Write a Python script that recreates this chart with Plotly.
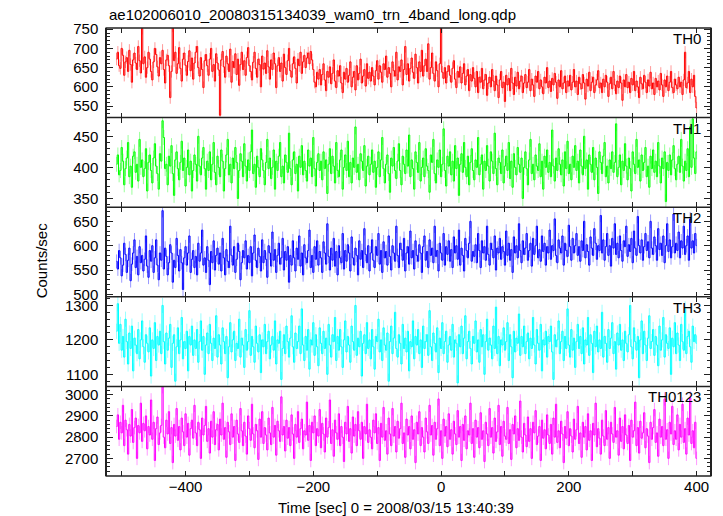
import numpy as np
import plotly.graph_objects as go

TIME_START = -508.0
BIN_SEC = 2.0

TH0 = [
    672, 690, 655, 648, 700, 682, 630, 665, 676, 640, 695, 658, 612, 670, 688, 662, 645, 705, 668, 636,
    752, 660, 678, 625, 650, 690, 672, 640, 618, 665, 700, 684, 652, 628, 676, 660, 695, 645, 610, 670,
    682, 655, 572, 640, 758, 668, 690, 635, 660, 702, 648, 615, 672, 688, 656, 630, 666, 694, 642, 675,
    620, 662, 690, 705, 650, 628, 676, 645, 598, 668, 684, 655, 630, 672, 700, 640, 658, 615, 686, 662,
    644, 526, 670, 692, 652, 625, 680, 660, 640, 698, 612, 666, 650, 686, 632, 672, 604, 658, 690, 645,
    668, 630, 676, 702, 655, 640, 618, 664, 690, 648, 625, 672, 658, 600, 680, 646, 662, 635, 694, 652,
    620, 670, 645, 688, 660, 598, 655, 676, 640, 662, 615, 685, 650, 632, 668, 700, 642, 625, 660, 678,
    648, 610, 672, 655, 690, 635, 665, 682, 650, 675, 688, 660, 692, 670, 645, 612, 600, 638, 620, 645,
    605, 632, 660, 618, 590, 640, 625, 652, 608, 635, 670, 615, 598, 642, 628, 655, 610, 585, 638, 620,
    648, 612, 630, 665, 600, 625, 640, 592, 655, 618, 635, 672, 610, 628, 645, 602, 660, 622, 638, 615,
    650, 628, 605, 642, 668, 620, 655, 638, 612, 660, 645, 680, 625, 650, 635, 600, 665, 642, 628, 690,
    618, 652, 640, 670, 605, 645, 705, 632, 660, 615, 648, 675, 638, 622, 685, 650, 610, 665, 640, 695,
    628, 655, 672, 640, 712, 620, 650, 688, 635, 615, 665, 642, 600, 660, 755, 638, 622, 650, 610, 640,
    655, 630, 612, 648, 668, 620, 598, 640, 625, 652, 610, 635, 660, 605, 628, 645, 590, 632, 615, 650,
    622, 600, 640, 585, 625, 612, 648, 595, 618, 632, 578, 610, 625, 600, 645, 615, 590, 628, 605, 572,
    618, 640, 598, 612, 562, 630, 605, 622, 590, 648, 610, 580, 625, 602, 638, 595, 615, 628, 585, 610,
    632, 598, 612, 645, 590, 620, 605, 575, 628, 612, 640, 595, 618, 600, 582, 625, 610, 650, 598, 615,
    588, 622, 605, 635, 612, 570, 618, 600, 642, 595, 610, 628, 585, 615, 602, 630, 592, 612, 645, 600,
    615, 580, 625, 608, 595, 632, 610, 568, 620, 602, 638, 590, 612, 625, 585, 605, 618, 642, 598, 610,
    585, 620, 600, 630, 612, 575, 608, 625, 595, 640, 605, 582, 615, 598, 628, 610, 565, 618, 600, 632,
    598, 612, 585, 622, 605, 640, 590, 615, 600, 572, 625, 608, 595, 630, 612, 585, 618, 602, 638, 595,
    610, 580, 622, 600, 615, 592, 635, 605, 575, 618, 600, 628, 590, 612, 640, 598, 585, 620, 605, 595,
    625, 600, 612, 580, 618, 690, 598, 610, 640, 585, 620, 600, 630, 575, 545,
]

TH1 = [
    405, 420, 388, 395, 432, 410, 372, 398, 415, 440, 385, 402, 368, 418, 425, 392, 405, 378, 445, 400,
    412, 385, 398, 430, 362, 408, 420, 395, 375, 415, 438, 402, 390, 365, 422, 410, 475, 448, 398, 405,
    372, 418, 402, 435, 390, 355, 412, 425, 398, 380, 408, 442, 395, 415, 370, 400, 428, 388, 410, 362,
    395, 420, 405, 378, 450, 402, 388, 415, 432, 398, 365, 410, 395, 425, 380, 405, 440, 392, 372, 418,
    400, 385, 428, 410, 362, 398, 420, 445, 388, 405, 375, 415, 398, 432, 408, 350, 395, 422, 410, 385,
    438, 402, 378, 412, 395, 425, 460, 390, 405, 368, 418, 400, 385, 430, 412, 395, 372, 408, 445, 398,
    415, 382, 400, 428, 365, 410, 395, 418, 440, 385, 402, 375, 420, 408, 392, 455, 398, 372, 412, 425,
    390, 405, 362, 418, 400, 435, 388, 410, 395, 378, 428, 402, 415, 385, 448, 398, 370, 408, 422, 395,
    410, 380, 425, 398, 412, 358, 405, 430, 390, 418, 402, 375, 440, 395, 385, 412, 428, 365, 400, 420,
    395, 442, 385, 408, 375, 415, 400, 465, 392, 405, 380, 422, 410, 395, 435, 370, 402, 418, 388, 405,
    428, 392, 410, 368, 400, 425, 385, 412, 448, 398, 375, 405, 420, 390, 360, 415, 402, 432, 395, 382,
    410, 438, 395, 372, 418, 405, 390, 428, 402, 452, 385, 412, 398, 365, 425, 408, 392, 440, 378, 400,
    415, 385, 430, 402, 395, 360, 420, 408, 445, 390, 375, 412, 400, 428, 385, 405, 462, 395, 370, 418,
    402, 425, 388, 410, 378, 435, 398, 415, 355, 405, 422, 392, 440, 400, 385, 418, 372, 408, 430, 395,
    380, 412, 400, 448, 388, 405, 420, 365, 410, 395, 435, 402, 378, 425, 410, 390, 455, 398, 372, 415,
    408, 390, 428, 375, 402, 418, 395, 440, 382, 410, 368, 422, 400, 388, 432, 405, 392, 415, 350, 400,
    425, 398, 372, 412, 445, 390, 405, 380, 420, 402, 395, 438, 385, 410, 365, 418, 400, 428, 392, 408,
    385, 460, 402, 378, 415, 395, 430, 405, 388, 412, 370, 425, 398, 442, 390, 405, 380, 418, 400, 435,
    395, 410, 375, 428, 402, 388, 450, 398, 412, 365, 420, 405, 392, 432, 380, 415, 400, 358, 425, 408,
    390, 418, 440, 385, 402, 375, 412, 398, 425, 392, 408, 470, 385, 400, 420, 372, 410, 395, 438, 402,
    380, 415, 398, 362, 425, 405, 390, 445, 400, 412, 378, 420, 395, 408, 432, 385, 402, 368, 418, 398,
    428, 392, 410, 385, 440, 402, 375, 415, 398, 425, 345, 408, 395, 420, 388, 412, 435, 398, 380, 405,
    418, 392, 445, 402, 378, 410, 395, 430, 385, 465, 400, 478, 415, 390, 425,
]

TH2 = [
    568, 552, 590, 575, 538, 560, 605, 582, 545, 570, 595, 528, 562, 585, 612, 555, 578, 540, 598, 565,
    580, 548, 572, 620, 558, 535, 590, 568, 600, 545, 575, 612, 560, 530, 585, 570, 672, 552, 595, 578,
    540, 565, 602, 585, 525, 570, 555, 615, 580, 548, 592, 565, 510, 575, 598, 560, 585, 620, 545, 572,
    590, 555, 578, 540, 605, 568, 585, 632, 560, 575, 545, 598, 570, 520, 588, 565, 610, 550, 580, 595,
    562, 585, 548, 615, 575, 540, 592, 568, 555, 640, 580, 560, 598, 545, 572, 605, 588, 530, 565, 590,
    575, 610, 552, 580, 565, 598, 538, 585, 622, 570, 555, 595, 578, 548, 612, 565, 590, 572, 535, 600,
    585, 558, 628, 570, 592, 545, 580, 605, 562, 575, 615, 550, 588, 570, 598, 525, 580, 560, 610, 575,
    548, 595, 572, 620, 558, 585, 540, 602, 575, 565, 590, 632, 555, 580, 545, 598, 572, 610, 560, 588,
    575, 545, 608, 585, 562, 645, 578, 550, 595, 570, 615, 558, 588, 540, 600, 575, 565, 625, 552, 590,
    568, 602, 585, 548, 618, 575, 560, 595, 580, 540, 610, 572, 590, 555, 635, 582, 565, 600, 548, 585,
    612, 570, 555, 598, 580, 625, 562, 590, 545, 608, 575, 588, 560, 620, 578, 550, 600, 585, 568, 640,
    580, 555, 605, 592, 570, 615, 548, 585, 598, 562, 630, 575, 590, 552, 610, 580, 568, 602, 585, 545,
    598, 620, 570, 588, 555, 612, 580, 595, 565, 640, 578, 590, 548, 605, 585, 570, 625, 560, 598, 582,
    610, 568, 592, 555, 618, 585, 600, 572, 632, 560, 595, 580, 548, 615, 590, 575, 605, 650, 568, 588,
    578, 602, 565, 625, 590, 555, 610, 585, 598, 570, 640, 582, 560, 605, 592, 575, 620, 550, 595, 585,
    615, 572, 598, 588, 560, 630, 580, 605, 570, 592, 545, 618, 585, 600, 575, 645, 590, 565, 610, 582,
    595, 625, 570, 590, 605, 558, 615, 582, 600, 640, 575, 592, 568, 620, 588, 605, 560, 598, 585, 632,
    572, 600, 590, 655, 580, 565, 612, 595, 585, 620, 560, 605, 590, 578, 642, 598, 570, 615, 585, 600,
    625, 580, 598, 568, 610, 590, 650, 575, 602, 588, 560, 618, 595, 580, 635, 605, 572, 600, 590, 662,
    585, 612, 570, 598, 625, 580, 600, 558, 615, 595, 645, 582, 605, 575, 620, 590, 568, 610, 598, 640,
    578, 602, 588, 615, 565, 630, 595, 580, 660, 600, 585, 612, 570, 598, 625, 590, 608, 575, 650, 595,
    582, 618, 600, 570, 635, 592, 605, 580, 620, 565, 600, 645, 588, 612, 575, 598, 665, 585, 605, 590,
    628, 575, 610, 595, 640, 582, 600, 620, 570, 655, 595, 610, 585, 625, 600,
]

TH3 = [
    1225, 1305, 1190, 1245, 1170, 1210, 1150, 1260, 1195, 1130, 1220, 1175, 1240, 1110, 1205, 1185, 1160, 1230, 1145, 1200,
    1255, 1180, 1135, 1215, 1190, 1165, 1235, 1095, 1200, 1175, 1250, 1140, 1210, 1185, 1225, 1160, 1300, 1195, 1130, 1220,
    1170, 1205, 1245, 1120, 1190, 1215, 1080, 1180, 1235, 1160, 1200, 1265, 1145, 1195, 1175, 1225, 1110, 1210, 1185, 1240,
    1155, 1200, 1175, 1230, 1135, 1195, 1255, 1170, 1210, 1100, 1185, 1220, 1160, 1245, 1190, 1140, 1205, 1175, 1270, 1150,
    1215, 1185, 1130, 1235, 1195, 1160, 1210, 1090, 1180, 1250, 1165, 1200, 1225, 1140, 1190, 1175, 1260, 1150, 1205, 1185,
    1120, 1230, 1170, 1195, 1285, 1155, 1210, 1180, 1135, 1240, 1190, 1165, 1215, 1105, 1200, 1180, 1245, 1160, 1195, 1225,
    1145, 1185, 1210, 1170, 1255, 1130, 1200, 1190, 1225, 1085, 1175, 1215, 1160, 1240, 1195, 1150, 1205, 1270, 1180, 1135,
    1220, 1175, 1195, 1240, 1160, 1290, 1185, 1140, 1210, 1170, 1230, 1115, 1200, 1185, 1250, 1155, 1215, 1180, 1125, 1235,
    1190, 1160, 1225, 1175, 1205, 1100, 1245, 1185, 1150, 1215, 1195, 1265, 1140, 1210, 1170, 1230, 1180, 1120, 1200, 1255,
    1165, 1210, 1185, 1135, 1240, 1195, 1170, 1300, 1155, 1205, 1180, 1225, 1095, 1190, 1215, 1160, 1250, 1175, 1200, 1145,
    1230, 1180, 1115, 1210, 1195, 1260, 1165, 1200, 1140, 1235, 1185, 1170, 1220, 1080, 1195, 1240, 1160, 1205, 1280, 1175,
    1150, 1215, 1190, 1130, 1245, 1175, 1205, 1165, 1225, 1110, 1195, 1180, 1255, 1145, 1210, 1185, 1230, 1160, 1200, 1120,
    1240, 1175, 1195, 1215, 1155, 1285, 1180, 1140, 1220, 1190, 1165, 1235, 1105, 1205, 1175, 1250, 1160, 1195, 1225, 1135,
    1185, 1210, 1170, 1245, 1150, 1200, 1190, 1075, 1215, 1180, 1240, 1160, 1205, 1270, 1145, 1195, 1225, 1175, 1130, 1210,
    1190, 1255, 1165, 1200, 1135, 1230, 1180, 1215, 1100, 1195, 1260, 1170, 1205, 1185, 1145, 1240, 1175, 1295, 1160, 1210,
    1125, 1200, 1185, 1235, 1170, 1195, 1250, 1140, 1215, 1180, 1090, 1225, 1165, 1205, 1190, 1275, 1155, 1210, 1180, 1240,
    1160, 1195, 1220, 1145, 1205, 1175, 1265, 1185, 1130, 1230, 1190, 1170, 1245, 1110, 1200, 1185, 1225, 1150, 1210, 1195,
    1240, 1165, 1085, 1215, 1180, 1200, 1255, 1160, 1195, 1225, 1140, 1210, 1175, 1290, 1185, 1150, 1230, 1170, 1205, 1120,
    1195, 1245, 1175, 1210, 1160, 1235, 1130, 1200, 1185, 1265, 1155, 1215, 1190, 1105, 1225, 1180, 1240, 1165, 1200, 1175,
    1280, 1150, 1210, 1190, 1135, 1230, 1175, 1205, 1250, 1160, 1195, 1115, 1220, 1185, 1245, 1170, 1200, 1140, 1225, 1190,
    1165, 1215, 1300, 1180, 1145, 1235, 1195, 1170, 1210, 1090, 1200, 1255, 1160, 1225, 1185, 1140, 1205, 1270, 1175, 1195,
    1230, 1155, 1210, 1185, 1125, 1240, 1170, 1200, 1265, 1150, 1215, 1190, 1175, 1235, 1100, 1205, 1180, 1250, 1160, 1220,
    1185, 1140, 1245, 1195, 1170, 1290, 1160, 1210, 1225, 1180, 1135, 1240, 1195, 1215, 1190,
]

TH0123 = [
    2850, 2905, 2790, 2870, 2820, 2950, 2760, 2880, 2835, 2720, 2860, 2805, 2930, 2775, 2845, 2890, 2700, 2855, 2820, 2960,
    2780, 2865, 2830, 2900, 2745, 2850, 2810, 2975, 2790, 2870, 2690, 2840, 2895, 2765, 2820, 2855, 3038, 2800, 2750, 2880,
    2815, 2920, 2770, 2845, 2680, 2860, 2805, 2935, 2785, 2850, 2740, 2890, 2825, 2760, 2910, 2800, 2865, 2715, 2840, 2880,
    2795, 2950, 2820, 2760, 2870, 2835, 2700, 2890, 2810, 2855, 2945, 2780, 2840, 2725, 2875, 2800, 2920, 2765, 2835, 2860,
    2740, 2885, 2810, 2960, 2790, 2845, 2705, 2870, 2825, 2765, 2910, 2800, 2850, 2690, 2880, 2815, 2775, 2935, 2830, 2760,
    2870, 2805, 2720, 2900, 2840, 2785, 2955, 2815, 2750, 2860, 2830, 2695, 2885, 2800, 2920, 2770, 2845, 2810, 2740, 2890,
    2820, 2765, 2940, 2800, 2855, 2715, 2875, 2830, 2780, 2990, 2810, 2850, 2735, 2880, 2795, 2845, 2760, 2905, 2815, 2700,
    2860, 2800, 2920, 2775, 2840, 2885, 2745, 2830, 2810, 2965, 2785, 2855, 2690, 2870, 2820, 2900, 2760, 2840, 2805, 2930,
    2750, 2865, 2815, 2730, 2890, 2800, 2845, 2975, 2770, 2835, 2710, 2880, 2820, 2790, 2910, 2760, 2850, 2800, 2685, 2870,
    2815, 2945, 2780, 2840, 2725, 2895, 2805, 2860, 2760, 2920, 2830, 2790, 2870, 2700, 2850, 2815, 2955, 2775, 2835, 2800,
    2745, 2880, 2820, 2910, 2770, 2845, 2690, 2865, 2800, 2940, 2785, 2830, 2720, 2890, 2815, 2760, 2935, 2805, 2850, 2730,
    2875, 2795, 2840, 2960, 2770, 2820, 2705, 2885, 2810, 2850, 2745, 2900, 2790, 2835, 2680, 2870, 2815, 2920, 2760, 2845,
    2800, 2730, 2890, 2825, 2770, 2950, 2810, 2855, 2715, 2870, 2790, 2840, 2980, 2760, 2830, 2700, 2885, 2805, 2850, 2755,
    2910, 2790, 2835, 2720, 2875, 2815, 2765, 2925, 2800, 2850, 2690, 2860, 2785, 2900, 2745, 2830, 2810, 2960, 2770, 2840,
    2705, 2880, 2800, 2845, 2750, 2915, 2790, 2830, 2685, 2870, 2815, 2760, 2935, 2800, 2845, 2725, 2890, 2780, 2825, 2950,
    2765, 2850, 2710, 2875, 2805, 2790, 2940, 2770, 2835, 2695, 2860, 2815, 2900, 2750, 2840, 2785, 2970, 2800, 2730, 2865,
    2810, 2755, 2895, 2780, 2840, 2700, 2870, 2820, 2925, 2765, 2805, 2850, 2690, 2880, 2795, 2835, 2745, 2905, 2810, 2770,
    2860, 2720, 2890, 2800, 2955, 2775, 2830, 2750, 2875, 2815, 2680, 2850, 2795, 2920, 2760, 2840, 2805, 2730, 2885, 2790,
    2835, 2945, 2770, 2820, 2705, 2870, 2800, 2850, 2740, 2910, 2785, 2830, 2690, 2865, 2810, 2960, 2755, 2840, 2795, 2720,
    2880, 2805, 2760, 2925, 2790, 2845, 2700, 2870, 2815, 2775, 2940, 2800, 2830, 2715, 2890, 2780, 2850, 2745, 2905, 2810,
    2770, 2855, 2690, 2880, 2800, 2830, 2965, 2760, 2845, 2725, 2875, 2795, 2820, 2915, 2750, 2840, 2805, 2680, 2870, 2790,
    2845, 2930, 2775, 2820, 2710, 2885, 2800, 2850, 2760, 2980, 2790, 2835, 2700, 2870, 2815, 2945, 2765, 2830, 2790, 2905,
    2740, 2860, 2800, 2955, 2775, 2840, 2720, 2890, 2810, 2985, 2770, 2830, 2750, 2870, 2700,
]

PANEL_NAMES = ["TH0", "TH1", "TH2", "TH3", "TH0123"]
PANEL_VALUES = [TH0, TH1, TH2, TH3, TH0123]
PANEL_ERRORS = [16, 12, 14, 22, 32]
LINE_COLORS = ["#ff0000", "#00ff00", "#0000ff", "#00ffff", "#ff00ff"]
ERR_COLORS = ["rgba(255,0,0,0.4)", "rgba(0,255,0,0.4)", "rgba(0,0,255,0.4)",
              "rgba(0,255,255,0.4)", "rgba(255,0,255,0.4)"]
Y_RANGES = [[520, 753], [336, 480], [495, 679], [1065, 1325], [2617, 3039]]
Y_TICKS = [[550, 600, 650, 700, 750], [350, 400, 450], [500, 550, 600, 650],
           [1100, 1200, 1300], [2700, 2800, 2900, 3000]]
Y_MINOR = [10, 10, 10, 20, 20]
X_RANGE = [-523, 421]
X_TICKS = [-500, -400, -300, -200, -100, 0, 100, 200, 300, 400]
X_TICK_TEXT = ["", "\u2212400", "", "\u2212200", "", "0", "", "200", "", "400"]

TITLE = "ae102006010_20080315134039_wam0_trn_4band_long.qdp"
X_TITLE = "Time [sec] 0 = 2008/03/15 13:40:39"
Y_TITLE = "Counts/sec"

FONT = "Liberation Sans, Arial, Helvetica, sans-serif"
AXIS_COLOR = "#222222"
N_PANELS = len(PANEL_NAMES)
PLOT_W_PX = 723 - 107 - 13

fig = go.Figure()
layout_axes = {}

for i, (name, vals) in enumerate(zip(PANEL_NAMES, PANEL_VALUES)):
    vals = np.asarray(vals, dtype=float)
    t = TIME_START + BIN_SEC * np.arange(len(vals))
    err = np.full(len(vals), float(PANEL_ERRORS[i]))
    sfx = "" if i == 0 else str(i + 1)
    xa, ya = "x" + sfx, "y" + sfx
    fig.add_trace(go.Scatter(
        x=t, y=vals, mode="markers", xaxis=xa, yaxis=ya,
        marker=dict(size=0.1, opacity=0, color=LINE_COLORS[i]),
        error_y=dict(type="data", array=err, visible=True, width=0,
                     thickness=1, color=ERR_COLORS[i]),
        hoverinfo="skip", showlegend=False))
    fig.add_trace(go.Scatter(
        x=t, y=vals, mode="lines", xaxis=xa, yaxis=ya,
        line=dict(color=LINE_COLORS[i], width=1, shape="hvh"),
        showlegend=False, name=name))

    is_bottom = (i == N_PANELS - 1)
    top = 1.0 - i / N_PANELS
    bottom = 1.0 - (i + 1) / N_PANELS
    layout_axes["xaxis" + sfx] = dict(
        domain=[0, 1], anchor=ya, range=X_RANGE, showline=False,
        mirror="ticks", ticks="inside",
        ticklen=5, tickwidth=1.2, tickcolor=AXIS_COLOR, tickvals=X_TICKS,
        ticktext=(X_TICK_TEXT if is_bottom else [""] * len(X_TICKS)),
        showticklabels=True, showgrid=False, zeroline=False, automargin=False,
        tickfont=dict(family=FONT, size=15, color="black"),
    )
    layout_axes["yaxis" + sfx] = dict(
        domain=[bottom, top], anchor=xa, range=Y_RANGES[i], showline=True,
        linecolor=AXIS_COLOR, linewidth=1.5, mirror="ticks", ticks="inside",
        ticklen=6, tickwidth=1.2, tickcolor=AXIS_COLOR, tickvals=Y_TICKS[i],
        showgrid=False, zeroline=False, automargin=False, ticklabelstandoff=4,
        minor=dict(dtick=Y_MINOR[i], ticks="inside", ticklen=3, tickwidth=1,
                   tickcolor=AXIS_COLOR, showgrid=False),
        tickfont=dict(family=FONT, size=15, color="black"),
    )
    fig.add_annotation(
        text=name, xref=(xa + " domain"), yref=(ya + " domain"),
        x=0.988, y=1.0, xanchor="right", yanchor="top", showarrow=False,
        font=dict(family=FONT, size=15, color="black"))

fig.update_layout(**layout_axes)

# one horizontal frame line at every panel edge (shared between neighbours)
ext = 1.5 / PLOT_W_PX
for k in range(N_PANELS + 1):
    fig.add_shape(type="line", xref="paper", yref="paper",
                  x0=-ext, x1=1 + ext, y0=k / N_PANELS, y1=k / N_PANELS,
                  line=dict(color=AXIS_COLOR, width=1.5), layer="above")

fig.add_annotation(text=TITLE, xref="paper", yref="paper", x=0.0, y=1.031,
                   xanchor="left", yanchor="middle", showarrow=False,
                   font=dict(family=FONT, size=15, color="black"))
fig.add_annotation(text=X_TITLE, xref="paper", yref="paper", x=0.48, y=-0.07,
                   xanchor="center", yanchor="middle", showarrow=False,
                   font=dict(family=FONT, size=15, color="black"))
fig.add_annotation(text=Y_TITLE, xref="paper", yref="paper", x=-0.109, y=0.482,
                   xanchor="center", yanchor="middle", textangle=-90, showarrow=False,
                   font=dict(family=FONT, size=15, color="black"))

fig.update_layout(
    width=723, height=516,
    margin=dict(l=107, r=13, t=28, b=40),
    paper_bgcolor="white", plot_bgcolor="white",
    showlegend=False,
    font=dict(family=FONT, size=15, color="black"),
)

fig.write_html("out.html", config={"displayModeBar": False},
               post_script="document.body.style.margin='0';document.body.style.padding='0';")
